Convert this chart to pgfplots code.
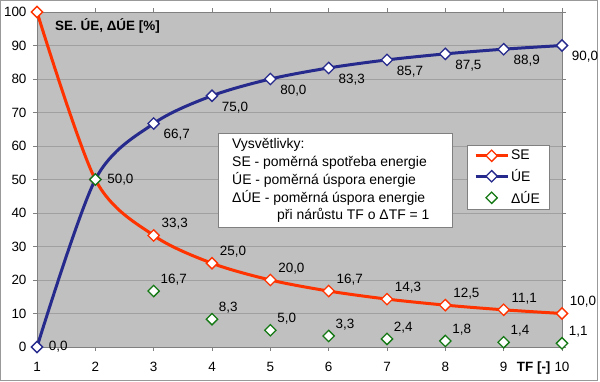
\documentclass[border=0pt]{standalone}
\usepackage{pgfplots}
\pgfplotsset{compat=1.18}
\usepackage{fontspec}
\setmainfont{Liberation Sans}
\definecolor{bgg}{RGB}{192,192,192}
\definecolor{gridg}{RGB}{160,160,160}
\definecolor{sered}{RGB}{255,51,0}
\definecolor{ueblue}{RGB}{38,42,140}
\definecolor{dgreen}{RGB}{20,120,20}
\begin{document}
\begin{tikzpicture}
\useasboundingbox (0,0) rectangle (600bp,382bp);
\fill[white] (0,0) rectangle (600bp,382bp);
\draw[gray!80, line width=1bp] (0.5bp,1.5bp) rectangle (597.5bp,381.5bp);
\begin{axis}[
  at={(37bp,35bp)}, anchor=south west, scale only axis,
  width=525bp, height=335bp,
  xmin=1, xmax=10, ymin=0, ymax=100,
  xtick={1,...,10}, ytick={0,10,...,100},
  axis background/.style={fill=bgg},
  ymajorgrids, grid style={gridg, line width=0.8bp},
  axis line style={gray, line width=0.8bp},
  tick align=outside, major tick length=4bp,
  tick style={gray, line width=0.6bp},
  ticklabel style={font=\fontsize{13.5}{15}\selectfont},
  /pgf/number format/assume math mode=true,
  xticklabel style={yshift=-8bp},
  yticklabel style={xshift=-3bp},
  clip=false,
  legend style={at={(rel axis cs:0.819,0.603)}, anchor=north west,
    draw=gray, fill=white, font=\fontsize{14}{16}\selectfont,
    row sep=4bp, inner xsep=7bp, inner ysep=3bp,
    legend image code/.code={\draw[mark repeat=2,mark phase=2] plot coordinates {(0bp,0bp)(16bp,0bp)(32bp,0bp)};}},
  legend cell align=left,
  every axis plot/.append style={mark=square*, mark size=4bp,
    mark options={rotate=45, fill=white, solid, line width=1.3bp}},
  nodes near coords style={font=\fontsize{13.5}{15}\selectfont, text=black},
]
% SE
\addplot[sered, line width=3bp, smooth, tension=0.5,
  nodes near coords, point meta=explicit symbolic,
  nodes near coords style={anchor=south west, xshift=4bp, yshift=2bp}]
  coordinates {(1,100) [] (2,50) [] (3,33.3) [33,3] (4,25) [25,0] (5,20) [20,0]
   (6,16.7) [16,7] (7,14.3) [14,3] (8,12.5) [12,5] (9,11.1) [11,1] (10,10) [10,0]};
\addlegendentry{SE}
% UE
\addplot[ueblue, line width=3bp, smooth, tension=0.5,
  nodes near coords, point meta=explicit symbolic,
  nodes near coords style={anchor=north west, xshift=6bp, yshift=-2bp}]
  coordinates {(1,0) [] (2,50) [] (3,66.7) [66,7] (4,75) [75,0] (5,80) [80,0]
   (6,83.3) [83,3] (7,85.7) [85,7] (8,87.5) [87,5] (9,88.9) [88,9] (10,90) [90,0]};
\addlegendentry{ÚE}
% dUE
\addplot[dgreen, only marks,
  nodes near coords, point meta=explicit symbolic,
  nodes near coords style={anchor=south west, xshift=3bp, yshift=2bp}]
  coordinates {(2,50) [] (3,16.7) [16,7] (4,8.3) [8,3] (5,5.0) [5,0]
   (6,3.3) [3,3] (7,2.4) [2,4] (8,1.8) [1,8] (9,1.4) [1,4] (10,1.1) [1,1]};
\addlegendentry{ΔÚE}
% special labels placed to the right of their points
\addplot[draw=none, mark=none, forget plot,
  nodes near coords, point meta=explicit symbolic,
  nodes near coords style={anchor=west, xshift=8bp}]
  coordinates {(1,0) [0,0] (2,50) [50,0]};
% titles
\node[anchor=base west, font=\bfseries\fontsize{13.5}{15}\selectfont, inner sep=0]
  at (axis cs:1.309,94.6) {SE. ÚE, ΔÚE [\%]};
\node[anchor=base west, font=\bfseries\fontsize{13.5}{15}\selectfont, inner sep=0]
  at (axis cs:9.223,-7.2) {TF [-]};
% explanation box
\draw[gray, fill=white, line width=0.8bp] (axis cs:4.103,35.8) rectangle (axis cs:8.115,63.9);
\begin{scope}[every node/.style={anchor=base west, inner sep=0, font=\fontsize{14}{16}\selectfont}]
\node at (axis cs:4.343,59.31) {Vysvětlivky:};
\node at (axis cs:4.343,53.82) {SE - poměrná spotřeba energie};
\node at (axis cs:4.343,48.54) {ÚE - poměrná úspora energie};
\node at (axis cs:4.343,43.28) {ΔÚE - poměrná úspora energie};
\node at (axis cs:5.114,38.06) {při nárůstu TF o ΔTF = 1};
\end{scope}
\end{axis}
\end{tikzpicture}
\end{document}
